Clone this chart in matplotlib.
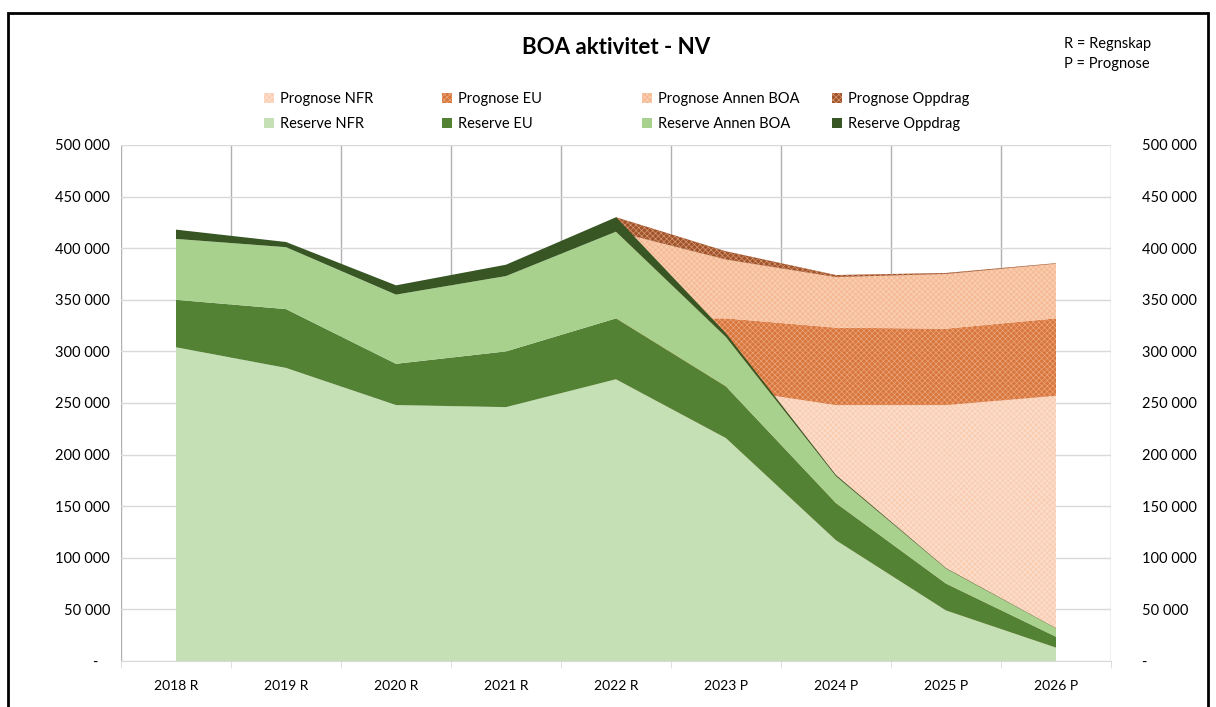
import numpy as np
import matplotlib.pyplot as plt
from matplotlib.patches import Patch, Rectangle
from matplotlib.ticker import FuncFormatter, MultipleLocator

# Kategorier (R = regnskap, P = prognose)
years = ['2018 R', '2019 R', '2020 R', '2021 R', '2022 R', '2023 P', '2024 P', '2025 P', '2026 P']

# Reserve (regnskap + prognose), NOK
reserve_nfr = [304000, 284000, 248000, 246000, 273000, 216000, 117000, 49000, 13000]
reserve_eu = [46000, 57000, 40000, 54000, 59000, 50000, 36000, 26000, 10500]
reserve_annen = [59000, 60000, 67000, 73000, 84000, 48000, 26000, 14500, 8000]
reserve_oppdrag = [9000, 5000, 9000, 11000, 14000, 3500, 1200, 500, 300]

# Prognose (fra 2022)
prog_years = years[4:]
prog_nfr = [273000, 264000, 248000, 248000, 257000]
prog_eu = [59000, 68000, 75000, 74000, 75000]
prog_annen = [84000, 57000, 49000, 53000, 53000]
prog_oppdrag = [14000, 8000, 2000, 1000, 500]

plt.rcParams['font.family'] = ['Lato', 'DejaVu Sans']
plt.rcParams['hatch.linewidth'] = 0.5

fig = plt.figure(figsize=(12.16, 7.07), dpi=100)
ax = fig.add_axes([121 / 1216, 46 / 707, 990 / 1216, 516 / 707])

x = np.arange(len(years))
xp = x[4:]

# prognose-stabel bak reserve-stabelen
p_styles = [
    ('Prognose NFR', prog_nfr, '#fcdcc9', '#f8c9ab'),
    ('Prognose EU', prog_eu, '#d7773d', '#eea47a'),
    ('Prognose Annen BOA', prog_annen, '#f9ccae', '#f4b48c'),
    ('Prognose Oppdrag', prog_oppdrag, '#a0532a', '#d59873'),
]
p_handles = []
base = np.zeros(len(xp))
for name, vals, fc, hc in p_styles:
    top = base + np.array(vals)
    ax.fill_between(xp, base, top, facecolor=fc, edgecolor=hc, hatch='xxxxxx',
                    linewidth=0, zorder=2)
    p_handles.append(Patch(facecolor=fc, edgecolor=hc, hatch='xxxxxx', linewidth=0, label=name))
    base = top

r_styles = [
    ('Reserve NFR', reserve_nfr, '#c5e0b4'),
    ('Reserve EU', reserve_eu, '#548235'),
    ('Reserve Annen BOA', reserve_annen, '#a9d18e'),
    ('Reserve Oppdrag', reserve_oppdrag, '#375623'),
]
r_handles = []
base = np.zeros(len(x))
for name, vals, fc in r_styles:
    top = base + np.array(vals)
    ax.fill_between(x, base, top, facecolor=fc, linewidth=0, zorder=3)
    r_handles.append(Patch(facecolor=fc, label=name))
    base = top

# akser
ax.set_xlim(-0.5, len(years) - 0.5)
ax.set_ylim(0, 500000)
ax.yaxis.set_major_locator(MultipleLocator(50000))


def fmt(v, pos):
    if v == 0:
        return '-   '
    return f'{int(v):,}'.replace(',', ' ')


ax.yaxis.set_major_formatter(FuncFormatter(fmt))
ax.set_xticks(x)
ax.set_xticklabels(years)
ax.set_xticks(np.arange(-0.5, len(years)), minor=True)
ax.tick_params(axis='x', which='major', length=0, pad=14, labelsize=10)
ax.tick_params(axis='x', which='minor', length=5, color='#d9d9d9', direction='out')
ax.tick_params(axis='y', length=0, pad=8, labelsize=10.5, labelcolor='#000000')

ax.grid(axis='y', color='#d9d9d9', linewidth=1, zorder=0)
ax.grid(axis='x', which='minor', color='#b0b0b0', linewidth=1, zorder=0)
ax.set_axisbelow(True)
for s in ['top', 'left', 'right']:
    ax.spines[s].set_visible(False)
ax.spines['bottom'].set_color('#d9d9d9')
ax.spines['bottom'].set_zorder(4)

ax2 = ax.twinx()
ax2.set_ylim(0, 500000)
ax2.yaxis.set_major_locator(MultipleLocator(50000))
ax2.yaxis.set_major_formatter(FuncFormatter(lambda v, p: '-' if v == 0 else f'{int(v):,}'.replace(',', ' ')))
ax2.tick_params(axis='y', length=0, pad=22, labelsize=10.5)
for s in ax2.spines.values():
    s.set_visible(False)

# tittel og tekst
fig.text(616 / 1216, 1 - 47 / 707, 'BOA aktivitet - NV', ha='center', va='center',
         fontsize=16, fontweight='bold')
fig.text(1064 / 1216, 1 - 54 / 707, 'R = Regnskap\nP = Prognose', ha='left', va='center',
         fontsize=10.5, linespacing=1.6)

# legende, en kolonne om gangen
col_x = [264, 442, 642, 832]
for j in range(4):
    fig.legend(handles=[p_handles[j], r_handles[j]], loc='upper left',
               bbox_to_anchor=(col_x[j] / 1216, 1 - 92 / 707), frameon=False,
               fontsize=10.5, handlelength=0.7, handleheight=0.7, handletextpad=0.4,
               labelspacing=0.75, borderpad=0, borderaxespad=0)

fig.add_artist(Rectangle((8 / 1216, -0.01), 1200 / 1216, 1 - 13 / 707 + 0.01,
                         transform=fig.transFigure, fill=False, edgecolor='black',
                         linewidth=2))

plt.savefig('out.png', dpi=100)
